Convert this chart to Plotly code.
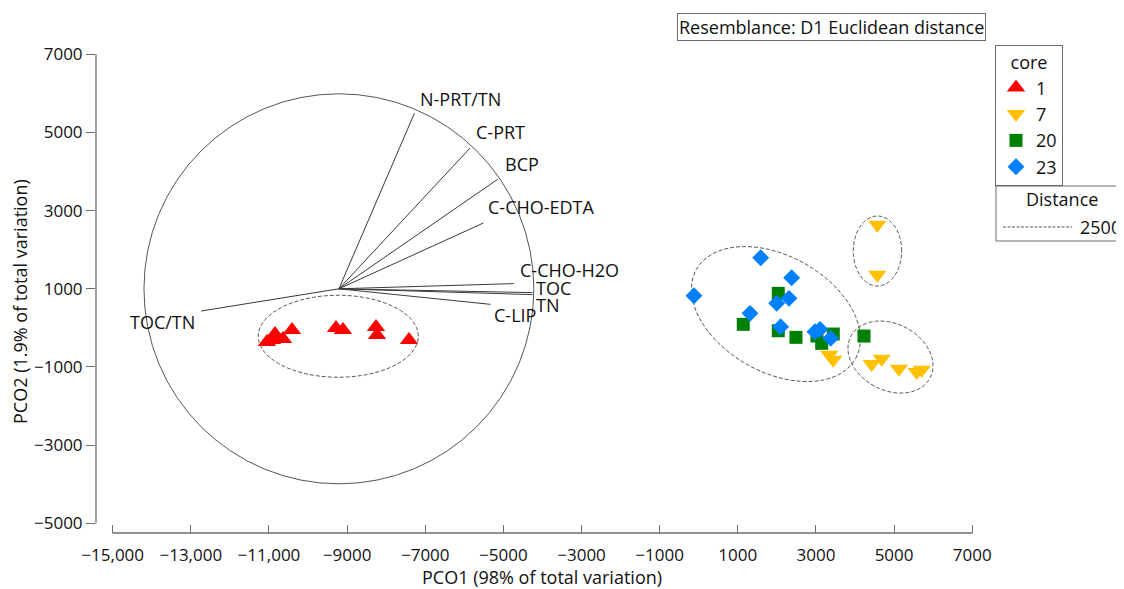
import numpy as np
import plotly.graph_objects as go

# ---------------- data ----------------
core_names = ["1", "7", "20", "23"]
core1_x = [-10846, -10923, -11051, -10641, -10411, -9285, -9105, -8261, -8235, -7416]
core1_y = [-157, -311, -362, -285, -55, -4, -55, 22, -183, -311]
core7_x = [4570, 4570, 3341, 3444, 4427, 4683, 5125, 5578, 5706]
core7_y = [2640, 1360, -687, -815, -925, -789, -1045, -1130, -1071]
core20_x = [2036, 1140, 2036, 2489, 3026, 3147, 3444, 4230]
core20_y = [884, 91, -73, -242, -208, -395, -157, -208]
core23_x = [1586, 2379, -122, 2310, 1995, 1312, 2097, 2975, 3104, 3377]
core23_y = [1795, 1283, 823, 756, 628, 372, 30, -99, -37, -267]

# vector overlay (end points relative to circle centre, PCO units)
vec_labels = ["N-PRT/TN", "C-PRT", "BCP", "C-CHO-EDTA", "C-CHO-H2O", "TOC", "TN", "C-LIP", "TOC/TN"]
vec_dx = [1932, 3358, 4065, 3698, 4474, 4960, 4960, 3878, -3527]
vec_dy = [4491, 3603, 2802, 1684, 133, -97, -148, -397, -568]
circle_cx, circle_cy, circle_r = -9210, 1000, 4990

# distance-level ellipses: centre x, centre y, semi-axis a, semi-axis b, angle (deg)
ell_cx = [-9226, 1977, 4575, 4908]
ell_cy = [-214, 354, 1967, -746]
ell_a = [2048, 2334, 619, 1145]
ell_b = [1049, 1487, 896, 850]
ell_ang = [0, -29.2, 0, -27.7]

x_ticks = list(range(-15000, 7001, 2000))
y_ticks = list(range(-5000, 7001, 2000))


def fmt(v):
    s = f"{abs(v):,}" if abs(v) >= 10000 else f"{abs(v)}"
    return ("\u2212" + s) if v < 0 else s


x_ticktext = [fmt(v) for v in x_ticks]
y_ticktext = [fmt(v) for v in y_ticks]

# ---------------- layout geometry ----------------
OFF = 8  # page body margin
W, H = 1124 - OFF, 589 - OFF
ML, MR, MT = 96 - OFF, 0, 20 - OFF
MB = H - (533 - OFF)
PW, PH = W - ML - MR, H - MT - MB
XR = [-15427, 10885]
YR = [-5248, 7878]


def px_x(px):  # page pixel -> paper
    return (px - OFF - ML) / PW


def px_y(py):
    return (H - MB - (py - OFF)) / PH


FONT = "Open Sans, Noto Sans, sans-serif"
FS = 18
TFS = 17
TXT = "#111111"
AX = "#6b6b6b"

fig = go.Figure()

# vectors
vx, vy = [], []
for dx, dy in zip(vec_dx, vec_dy):
    vx += [circle_cx, circle_cx + dx, None]
    vy += [circle_cy, circle_cy + dy, None]
fig.add_trace(go.Scatter(x=vx, y=vy, mode="lines", line=dict(color="#3a3a3a", width=1),
                         showlegend=False, hoverinfo="skip"))

colors = ["#FF0000", "#FFC000", "#008000", "#0080FF"]
symbols = ["triangle-up", "triangle-down", "square", "diamond"]
sizes = [16, 16, 13, 13]
xs = [core1_x, core7_x, core20_x, core23_x]
ys = [core1_y, core7_y, core20_y, core23_y]
for name, c, s, sz, x, y in zip(core_names, colors, symbols, sizes, xs, ys):
    fig.add_trace(go.Scatter(x=x, y=y, mode="markers", name=name, legendgroup=name,
                             marker=dict(color=c, symbol=s, size=sz, line=dict(width=0))))

shapes = []
# circle
shapes.append(dict(type="circle", xref="x", yref="y",
                   x0=circle_cx - circle_r, x1=circle_cx + circle_r,
                   y0=circle_cy - circle_r, y1=circle_cy + circle_r,
                   line=dict(color="#555555", width=1), layer="below"))

# ellipses
t = np.linspace(0, 2 * np.pi, 121)
for cx, cy, a, b, ang in zip(ell_cx, ell_cy, ell_a, ell_b, ell_ang):
    th = np.deg2rad(ang)
    ex = cx + a * np.cos(t) * np.cos(th) - b * np.sin(t) * np.sin(th)
    ey = cy + a * np.cos(t) * np.sin(th) + b * np.sin(t) * np.cos(th)
    path = "M " + " L ".join(f"{px:.1f},{py:.1f}" for px, py in zip(ex, ey)) + " Z"
    shapes.append(dict(type="path", xref="x", yref="y", path=path,
                       line=dict(color="#555555", width=1, dash="4px,2px"), layer="below"))

# axis lines
shapes.append(dict(type="line", xref="x", yref="paper", x0=x_ticks[0], x1=x_ticks[-1], y0=0, y1=0,
                   line=dict(color=AX, width=1.3)))
shapes.append(dict(type="line", xref="paper", yref="y", x0=0, x1=0, y0=y_ticks[0], y1=y_ticks[-1],
                   line=dict(color=AX, width=1.3)))

# Distance legend box
shapes.append(dict(type="rect", xref="paper", yref="paper", x0=px_x(996), x1=px_x(1135),
                   y0=px_y(241), y1=px_y(186), line=dict(color=AX, width=1)))
shapes.append(dict(type="line", xref="paper", yref="paper", x0=px_x(1003), x1=px_x(1072),
                   y0=px_y(227), y1=px_y(227), line=dict(color="#555555", width=1, dash="3px,1.5px")))

annotations = []
# vector labels: (xanchor, xshift, yshift)
lab_pos = [("left", 4, 14), ("left", 4, 16), ("left", 5, 15), ("left", 3, 16), ("left", 4, 14),
           ("left", 1, 5), ("left", 1, -10), ("left", 2, -11), ("right", -4, -11)]
for lab, dx, dy, (anc, xs_, ys_) in zip(vec_labels, vec_dx, vec_dy, lab_pos):
    annotations.append(dict(x=circle_cx + dx, y=circle_cy + dy, xref="x", yref="y", text=lab,
                            showarrow=False, xanchor=anc, yanchor="middle", xshift=xs_, yshift=ys_,
                            font=dict(family=FONT, size=FS, color=TXT)))

annotations.append(dict(x=px_x(831), y=px_y(26.5), xref="paper", yref="paper",
                        text="Resemblance: D1 Euclidean distance", showarrow=False,
                        xanchor="center", yanchor="middle", bordercolor=AX, borderwidth=1,
                        borderpad=1, bgcolor="white", font=dict(family=FONT, size=FS, color=TXT)))
annotations.append(dict(x=px_x(1062), y=px_y(199), xref="paper", yref="paper", text="Distance",
                        showarrow=False, xanchor="center", yanchor="middle",
                        font=dict(family=FONT, size=FS, color=TXT)))
annotations.append(dict(x=px_x(1123), y=px_y(227), xref="paper", yref="paper", text="2500",
                        showarrow=False, xanchor="right", yanchor="middle",
                        font=dict(family=FONT, size=FS, color=TXT)))
# axis titles
annotations.append(dict(x=px_x(542), y=px_y(577), xref="paper", yref="paper",
                        text="PCO1 (98% of total variation)", showarrow=False,
                        xanchor="center", yanchor="middle",
                        font=dict(family=FONT, size=FS, color=TXT)))
annotations.append(dict(x=px_x(20), y=px_y(302), xref="paper", yref="paper",
                        text="PCO2 (1.9% of total variation)", showarrow=False, textangle=-90,
                        xanchor="center", yanchor="middle",
                        font=dict(family=FONT, size=FS, color=TXT)))

fig.update_layout(
    width=W, height=H,
    margin=dict(l=ML, r=MR, t=MT, b=MB, autoexpand=False),
    paper_bgcolor="white", plot_bgcolor="white",
    font=dict(family=FONT, size=FS, color=TXT),
    xaxis=dict(range=XR, tickvals=x_ticks, ticktext=x_ticktext, ticks="inside", ticklen=8,
               tickcolor=AX, tickwidth=1.3, showgrid=False, zeroline=False, showline=False,
               ticklabelstandoff=10, tickfont=dict(family=FONT, size=TFS, color=TXT)),
    yaxis=dict(range=YR, tickvals=y_ticks, ticktext=y_ticktext, ticks="outside", ticklen=9,
               tickcolor=AX, tickwidth=1.3, showgrid=False, zeroline=False, showline=False,
               tickfont=dict(family=FONT, size=TFS, color=TXT)),
    yaxis2=dict(range=YR, overlaying="y", anchor="x", side="left", tickvals=y_ticks,
                ticks="inside", ticklen=8, tickcolor=AX, tickwidth=1.3, showticklabels=False,
                showgrid=False, zeroline=False, showline=False),
    legend=dict(x=px_x(995), y=px_y(45), xanchor="left", yanchor="top",
                bordercolor=AX, borderwidth=1, bgcolor="white",
                title=dict(text="core", side="top center", font=dict(family=FONT, size=FS)),
                font=dict(family=FONT, size=FS, color=TXT), tracegroupgap=0,
                itemwidth=30),
    shapes=shapes, annotations=annotations,
)

fig.write_html("out.html")
